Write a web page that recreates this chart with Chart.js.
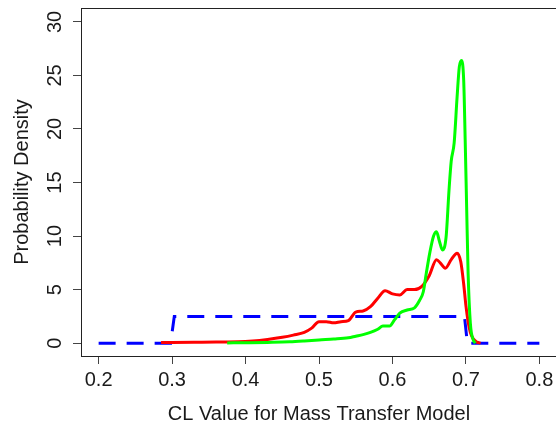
<!DOCTYPE html>
<html>
<head>
<meta charset="utf-8">
<script src="https://cdn.jsdelivr.net/npm/chart.js@4"></script>
<style>
  html, body { margin: 0; padding: 0; background: #fff; overflow: hidden; }
  #wrap { width: 556px; height: 424px; overflow: hidden; }
</style>
</head>
<body>
<div id="wrap"><canvas id="myChart" width="560" height="424"></canvas></div>
<script>
// posterior (green), intermediate (red) and prior (blue) densities
let greenX = [0.375, 0.40, 0.43, 0.46, 0.48, 0.50, 0.52, 0.54, 0.55, 0.56, 0.57, 0.58, 0.587, 0.596, 0.603, 0.61, 0.62, 0.63, 0.637, 0.642, 0.646, 0.651, 0.656, 0.660, 0.664, 0.668, 0.673, 0.677, 0.680, 0.684, 0.688, 0.691, 0.694, 0.697, 0.699, 0.701, 0.703, 0.706, 0.710, 0.713];
let greenY = [0.02, 0.04, 0.07, 0.12, 0.2, 0.3, 0.38, 0.5, 0.65, 0.8, 1.0, 1.3, 1.6, 1.6, 2.2, 2.8, 3.1, 3.3, 4.0, 4.8, 6.5, 8.5, 10.0, 10.4, 9.5, 8.7, 9.9, 14.3, 17.0, 18.7, 23.0, 25.8, 26.4, 24.5, 19.0, 12.7, 6.5, 1.9, 0.3, 0.0];

let redX = [0.285, 0.30, 0.33, 0.36, 0.39, 0.41, 0.43, 0.45, 0.465, 0.48, 0.49, 0.50, 0.51, 0.52, 0.53, 0.54, 0.55, 0.56, 0.57, 0.58, 0.59, 0.60, 0.61, 0.62, 0.63, 0.64, 0.65, 0.66, 0.665, 0.672, 0.68, 0.688, 0.693, 0.697, 0.700, 0.703, 0.706, 0.710, 0.715, 0.720];
let redY = [0.05, 0.06, 0.08, 0.1, 0.12, 0.2, 0.35, 0.55, 0.75, 1.0, 1.4, 2.0, 2.0, 1.9, 2.0, 2.1, 2.9, 3.0, 3.4, 4.2, 4.9, 4.6, 4.5, 5.0, 5.0, 5.3, 6.3, 7.8, 7.5, 7.0, 7.8, 8.4, 7.6, 5.5, 3.5, 2.0, 1.0, 0.4, 0.1, 0.0];

let blueX = [0.2, 0.298, 0.303, 0.698, 0.702, 0.8];
let blueY = [0, 0, 2.5, 2.5, 0, 0];

let xTicks = [0.2, 0.3, 0.4, 0.5, 0.6, 0.7, 0.8];
let yTicks = [0, 5, 10, 15, 20, 25, 30];

function pts(xs, ys) {
  return xs.map((x, i) => ({ x: x, y: ys[i] }));
}

// box around the plot region, like R's box()
const boxPlugin = {
  id: 'box',
  afterDraw(chart) {
    const a = chart.chartArea;
    const ctx = chart.ctx;
    ctx.save();
    ctx.strokeStyle = '#222';
    ctx.lineWidth = 1;
    ctx.strokeRect(a.left + 0.5, a.top + 0.5, a.right - a.left, a.bottom - a.top);
    ctx.restore();
  }
};

Chart.defaults.font.family = '"Liberation Sans", Arial, sans-serif';
Chart.defaults.color = '#1a1a1a';

let ctx = document.getElementById('myChart').getContext('2d');

let densityChart = new Chart(ctx, {
  type: 'scatter',
  data: {
    datasets: [{
      data: pts(greenX, greenY),
      borderColor: '#00ff00',
      borderWidth: 3,
      showLine: true,
      pointRadius: 0,
      cubicInterpolationMode: 'monotone'
    }, {
      data: pts(redX, redY),
      borderColor: '#ff0000',
      borderWidth: 3,
      showLine: true,
      pointRadius: 0,
      cubicInterpolationMode: 'monotone'
    }, {
      data: pts(blueX, blueY),
      borderColor: '#0000ff',
      borderWidth: 3,
      borderDash: [17, 11],
      showLine: true,
      pointRadius: 0,
      tension: 0
    }]
  },
  options: {
    responsive: false,
    animation: false,
    layout: { padding: { left: 0, top: 8, right: 3, bottom: 0 } },
    plugins: { legend: { display: false }, tooltip: { enabled: false } },
    scales: {
      x: {
        type: 'linear',
        min: 0.176,
        max: 0.824,
        afterFit: (scale) => {
          scale.height = 68;
          scale.paddingLeft = 0;
          scale.paddingRight = 0;
        },
        afterBuildTicks: (scale) => { scale.ticks = xTicks.map(v => ({ value: v })); },
        border: { display: false },
        grid: { drawOnChartArea: false, drawTicks: true, tickLength: 8, color: '#444', tickWidth: 1 },
        ticks: {
          font: { size: 20 },
          padding: 4,
          maxRotation: 0,
          callback: (v) => v.toFixed(1)
        },
        title: {
          display: true,
          text: 'CL Value for Mass Transfer Model',
          font: { size: 20, lineHeight: 1 },
          padding: { top: 0, bottom: 0 }
        }
      },
      y: {
        type: 'linear',
        min: -1.2,
        max: 31.3,
        afterFit: (scale) => {
          scale.width = 81;
          scale.paddingTop = 0;
          scale.paddingBottom = 0;
        },
        afterBuildTicks: (scale) => { scale.ticks = yTicks.map(v => ({ value: v })); },
        border: { display: false },
        grid: { drawOnChartArea: false, drawTicks: true, tickLength: 8, color: '#444', tickWidth: 1 },
        ticks: {
          font: { size: 20 },
          padding: 6,
          minRotation: 90,
          maxRotation: 90,
          crossAlign: 'center'
        },
        title: {
          display: true,
          text: 'Probability Density',
          font: { size: 20 },
          padding: { top: 10, bottom: 0 }
        }
      }
    }
  },
  plugins: [boxPlugin]
});
</script>
</body>
</html>
